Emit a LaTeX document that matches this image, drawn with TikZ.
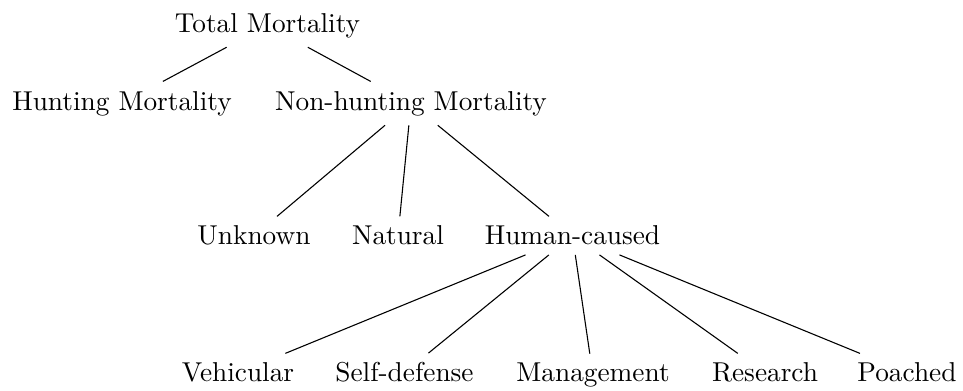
\documentclass[tikz,border=0pt]{standalone}

\begin{document}
\begin{tikzpicture}[
        every node/.style={font=\normalsize},
        causa/.style={anchor=base, inner sep=3.33pt}
    ]
        \useasboundingbox (0,0) rectangle (12.394,-5.032);

        %--------------------------------
        % Total mortality
        %--------------------------------
        \node[causa] (total) at (3.443,-0.412) {Total Mortality};
        \node[causa] (hunt) at (1.570,-1.416) {Hunting Mortality};
        \node[causa] (nonhunt) at (5.290,-1.416) {Non-hunting Mortality};

        \draw (total) -- (hunt);
        \draw (total) -- (nonhunt);

        %--------------------------------
        % Non-hunting
        %--------------------------------
        \node[causa] (unknown) at (3.269,-3.153) {Unknown};
        \node[causa] (natural) at (5.122,-3.153) {Natural};
        \node[causa] (human) at (7.368,-3.153) {Human-caused};

        \draw (nonhunt) -- (unknown);
        \draw (nonhunt) -- (natural);
        \draw (nonhunt) -- (human);

        %--------------------------------
        % Human-caused
        %--------------------------------
        \foreach \x/\v/\t in {3.063/veh/Vehicular,5.206/self/Self-defense,7.632/man/Management,9.846/res/Research,11.673/poa/Poached}
            \node[causa] (\v) at (\x,-4.916) {\t};

        \foreach \v in {veh,self,man,res,poa}
            \draw (human) -- (\v);

    \end{tikzpicture}
\end{document}
